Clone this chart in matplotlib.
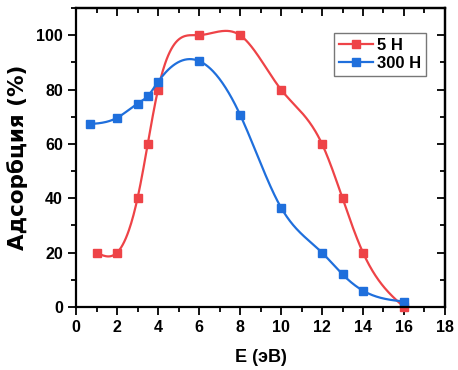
import numpy as np
import matplotlib
matplotlib.use("Agg")
import matplotlib.pyplot as plt
from matplotlib.ticker import MultipleLocator

x_5h = [1, 2, 3, 3.5, 4, 6, 8, 10, 12, 13, 14, 16]
y_5h = [20, 20, 40, 60, 80, 100, 100, 80, 60, 40, 20, 0]
x_300h = [0.7, 2, 3, 3.5, 4, 6, 8, 10, 12, 13, 14, 16]
y_300h = [67.3, 69.6, 74.8, 77.6, 82.8, 90.5, 70.8, 36.6, 20, 12, 6, 2]
labels = ["5 H", "300 H"]
xlabel = "E (эВ)"
ylabel = "Адсорбция (%)"

red = "#EE4347"
blue = "#1F6FDC"


def natural_spline(x, y, n=400):
    x = np.asarray(x, float); y = np.asarray(y, float)
    m = len(x)
    h = np.diff(x)
    A = np.zeros((m, m)); b = np.zeros(m)
    A[0, 0] = 1; A[-1, -1] = 1
    for i in range(1, m - 1):
        A[i, i - 1] = h[i - 1]
        A[i, i] = 2 * (h[i - 1] + h[i])
        A[i, i + 1] = h[i]
        b[i] = 6 * ((y[i + 1] - y[i]) / h[i] - (y[i] - y[i - 1]) / h[i - 1])
    M = np.linalg.solve(A, b)
    xs = np.linspace(x[0], x[-1], n)
    idx = np.clip(np.searchsorted(x, xs) - 1, 0, m - 2)
    x0 = x[idx]; x1 = x[idx + 1]; hh = x1 - x0
    ys = (M[idx] * (x1 - xs) ** 3 / (6 * hh) + M[idx + 1] * (xs - x0) ** 3 / (6 * hh)
          + (y[idx] / hh - M[idx] * hh / 6) * (x1 - xs)
          + (y[idx + 1] / hh - M[idx + 1] * hh / 6) * (xs - x0))
    return xs, ys


plt.rcParams['font.family'] = ['Liberation Sans', 'DejaVu Sans']
fig = plt.figure(figsize=(4.58, 3.70), dpi=100)
ax = fig.add_axes([0.166, 0.1703, 0.8056, 0.8081])

for xd, yd, c, lab in [(x_5h, y_5h, red, labels[0]), (x_300h, y_300h, blue, labels[1])]:
    xs, ys = natural_spline(xd, yd)
    ax.plot(xs, ys, color=c, lw=1.6, clip_on=False)
    ax.plot(xd, yd, ls='none', marker='s', ms=6, color=c, clip_on=False)
    ax.plot([], [], color=c, lw=1.6, marker='s', ms=6, label=lab)

ax.set_xlim(0, 18)
ax.set_ylim(0, 110)
ax.xaxis.set_major_locator(MultipleLocator(2))
ax.xaxis.set_minor_locator(MultipleLocator(1))
ax.yaxis.set_major_locator(MultipleLocator(20))
ax.yaxis.set_minor_locator(MultipleLocator(10))
ax.set_yticks([0, 20, 40, 60, 80, 100])

for s in ax.spines.values():
    s.set_linewidth(1.6)

ax.tick_params(axis='both', which='both', width=1.3, labelsize=11.5)
ax.tick_params(axis='x', which='major', direction='out', length=6, bottom=True, top=False)
ax.tick_params(axis='x', which='minor', direction='out', length=3.5, bottom=True, top=False)
ax.tick_params(axis='y', which='major', direction='out', length=6, left=True, right=False)
ax.tick_params(axis='y', which='minor', direction='out', length=3.5, left=True, right=False)
for lab in ax.get_xticklabels() + ax.get_yticklabels():
    lab.set_fontweight('bold')

# mirrored inward ticks on top and right
secx = ax.secondary_xaxis('top')
secx.xaxis.set_major_locator(MultipleLocator(2))
secx.xaxis.set_minor_locator(MultipleLocator(1))
secx.tick_params(which='major', direction='in', length=6, width=1.3, labeltop=False)
secx.tick_params(which='minor', direction='in', length=3.5, width=1.3)
secx.spines['top'].set_linewidth(1.6)
secy = ax.secondary_yaxis('right')
secy.yaxis.set_major_locator(MultipleLocator(20))
secy.yaxis.set_minor_locator(MultipleLocator(10))
secy.tick_params(which='major', direction='in', length=6, width=1.3, labelright=False)
secy.tick_params(which='minor', direction='in', length=3.5, width=1.3)
secy.spines['right'].set_linewidth(1.6)

ax.set_xlabel(xlabel, fontsize=13, fontweight='bold', labelpad=10)
ax.set_ylabel(ylabel, fontsize=15.5, fontweight='bold', labelpad=6,
              family=['DejaVu Sans'])

leg = ax.legend(loc='upper right', bbox_to_anchor=(0.948, 0.918),
                prop={'weight': 'bold', 'size': 12}, frameon=True, fancybox=False,
                edgecolor='#555555', handlelength=2.0, borderpad=0.3,
                labelspacing=0.2, handletextpad=0.25, borderaxespad=0)
leg.get_frame().set_linewidth(1.0)

fig.savefig("out.png", dpi=100)
